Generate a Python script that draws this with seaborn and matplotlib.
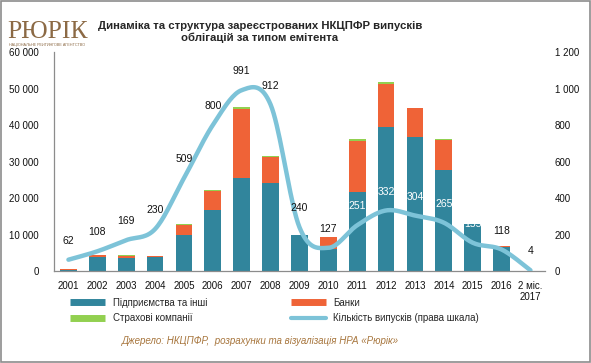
import numpy as np
import pandas as pd
import matplotlib
matplotlib.use("Agg")
import matplotlib.pyplot as plt
import seaborn as sns
from matplotlib.lines import Line2D
from matplotlib.patches import Rectangle

# -------------------------------
# data
# -------------------------------
years = ["2001", "2002", "2003", "2004", "2005", "2006", "2007", "2008", "2009",
         "2010", "2011", "2012", "2013", "2014", "2015", "2016", "2 міс.\n2017"]
enterprises = [300, 3900, 3650, 3750, 9860, 16700, 25600, 24200, 9900,
               5900, 21600, 39450, 36700, 27750, 12950, 6580, 60]
banks = [250, 400, 450, 250, 2740, 5200, 18800, 7000, 0,
         3400, 14100, 11850, 7950, 8150, 0, 270, 0]
insurance = [0, 150, 300, 200, 350, 400, 400, 400, 0,
             0, 350, 350, 0, 300, 0, 0, 0]
issues = [62, 108, 169, 230, 509, 800, 991, 912, 240,
          127, 251, 332, 304, 265, 155, 118, 4]
white_labels = ["2011", "2012", "2013", "2014", "2015"]

C_TEAL = "#31859c"
C_ORANGE = "#ef6337"
C_GREEN = "#92d050"
C_LINE = "#7dc3d8"
C_BROWN = "#8c6a45"

df = pd.DataFrame({"year": years, "ent": enterprises, "bank": banks, "ins": insurance})
df["lvl1"] = df["ent"]
df["lvl2"] = df["ent"] + df["bank"]
df["lvl3"] = df["lvl2"] + df["ins"]


def smooth(xs, ys, n=20):
    # Catmull-Rom style smoothing like Excel's "smoothed line"
    xs = np.asarray(xs, float)
    ys = np.asarray(ys, float)
    px = np.concatenate([[xs[0]], xs, [xs[-1]]])
    py = np.concatenate([[ys[0]], ys, [ys[-1]]])
    out_x, out_y = [], []
    t = np.linspace(0, 1, n)
    for i in range(1, len(px) - 2):
        p0, p1, p2, p3 = [np.array([px[j], py[j]]) for j in (i - 1, i, i + 1, i + 2)]
        c1 = p1 + (p2 - p0) / 6
        c2 = p2 - (p3 - p1) / 6
        b = ((1 - t) ** 3)[:, None] * p1 + (3 * (1 - t) ** 2 * t)[:, None] * c1 \
            + (3 * (1 - t) * t ** 2)[:, None] * c2 + (t ** 3)[:, None] * p2
        out_x.extend(b[:, 0])
        out_y.extend(b[:, 1])
    return np.array(out_x), np.array(out_y)


sns.set_theme(style="white")
plt.rcParams["font.family"] = ["Liberation Sans", "DejaVu Sans"]

fig = plt.figure(figsize=(5.91, 3.63), dpi=100)
ax = fig.add_axes([0.0914, 0.2534, 0.8306, 0.6033])

# stacked bars: draw cumulative totals back to front
for col, c in [("lvl3", C_GREEN), ("lvl2", C_ORANGE), ("lvl1", C_TEAL)]:
    sns.barplot(data=df, x="year", y=col, color=c, width=0.58, saturation=1,
                linewidth=0, edgecolor="none", ax=ax)

ax.set_ylim(0, 60000)
ax.set_yticks(np.arange(0, 60001, 10000))
ax.set_yticklabels([f"{v:,}".replace(",", " ") for v in range(0, 60001, 10000)])
ax.set_xlabel("")
ax.set_ylabel("")
ax.set_xlim(-0.5, len(years) - 0.5)
ax.tick_params(axis="both", length=0, labelsize=7, colors="#111111")
ax.tick_params(axis="y", pad=11)
ax.tick_params(axis="x", pad=7)
for s in ["top", "right"]:
    ax.spines[s].set_visible(False)
for s in ["left", "bottom"]:
    ax.spines[s].set_color("#8c8c8c")
    ax.spines[s].set_linewidth(0.9)

# number of issues on right scale
ax2 = ax.twinx()
xpos = np.arange(len(years))
sx, sy = smooth(xpos, issues)
ax2.plot(sx, sy, color=C_LINE, lw=3.2, solid_capstyle="round")
ax2.set_ylim(0, 1200)
ax2.set_yticks(np.arange(0, 1201, 200))
ax2.set_yticklabels([f"{v:,}".replace(",", " ") for v in range(0, 1201, 200)])
ax2.tick_params(axis="y", length=0, labelsize=7, pad=7, colors="#111111")
for s in ax2.spines.values():
    s.set_visible(False)
ax2.grid(False)
ax.grid(False)

for i, (yr, v) in enumerate(zip(years, issues)):
    col = "white" if yr in white_labels else "#111111"
    ax2.annotate(str(v), (i, v), xytext=(0, 10), textcoords="offset points",
                 ha="center", va="bottom", fontsize=7.5, color=col)

# legend
handles = [
    Line2D([], [], color=C_TEAL, lw=5, solid_capstyle="butt"),
    Line2D([], [], color=C_GREEN, lw=5, solid_capstyle="butt"),
    Line2D([], [], color=C_ORANGE, lw=5, solid_capstyle="butt"),
    Line2D([], [], color=C_LINE, lw=3, solid_capstyle="round"),
]
labels = ["Підприємства та інші", "Страхові компанії", "Банки",
          "Кількість випусків (права шкала)"]
fig.legend(handles, labels, ncol=2, loc="center left", bbox_to_anchor=(0.11, 0.145),
           frameon=False, fontsize=7, handlelength=3.6, columnspacing=8.6,
           labelspacing=0.55, handletextpad=0.8, borderpad=0)

# title
fig.text(0.44, 0.912, "Динаміка та структура зареєстрованих НКЦПФР випусків\nоблігацій за типом емітента",
         ha="center", va="center", fontsize=8.2, fontweight="bold", linespacing=1.2)

# source
fig.text(0.44, 0.06, "Джерело: НКЦПФР,  розрахунки та візуалізація НРА «Рюрік»",
         ha="center", va="center", fontsize=7, style="italic", color="#a8773f")

# logo
fig.text(0.08, 0.912, "РЮРІК", ha="center", va="center", fontsize=18.5,
         family=["Liberation Serif", "DejaVu Serif"], color=C_BROWN)
fig.text(0.08, 0.877, "НАЦІОНАЛЬНЕ РЕЙТИНГОВЕ АГЕНТСТВО", ha="center", va="center",
         fontsize=2.7, color=C_BROWN)

# frame
fig.patches.append(Rectangle((0.001, 0.002), 0.997, 0.995, transform=fig.transFigure,
                             fill=False, edgecolor="#8c8c8c", lw=1.2))

fig.savefig("out.png", dpi=100)
